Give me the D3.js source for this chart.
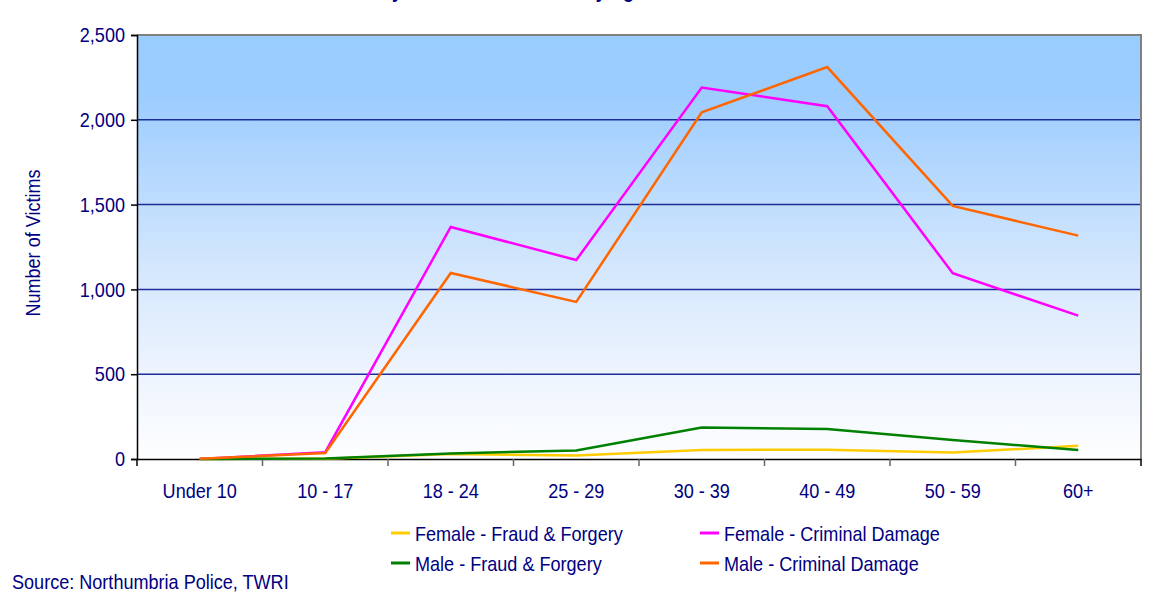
<!DOCTYPE html>
<html>
<head>
<meta charset="utf-8">
<script src="https://cdn.jsdelivr.net/npm/d3@7"></script>
<style>
	body { margin: 0; background: #fff; }
	text { font-family: "Liberation Sans Narrow", "Arial Narrow", "Liberation Sans", Arial, sans-serif; fill: #000080; }
</style>
</head>
<body>
<script>

var ageGroups = ['Under 10', '10 - 17', '18 - 24', '25 - 29', '30 - 39', '40 - 49', '50 - 59', '60+'];
var femaleFraud = [0, 2, 30, 20, 53, 55, 38, 78];
var femaleDamage = [0, 40, 1368, 1173, 2190, 2080, 1095, 845];
var maleFraud = [0, 3, 33, 50, 185, 177, 112, 53];
var maleDamage = [2, 35, 1097, 926, 2044, 2311, 1492, 1317];
var yTicks = [0, 500, 1000, 1500, 2000, 2500];

var seriesNames = ['Female - Fraud & Forgery', 'Female - Criminal Damage', 'Male - Fraud & Forgery', 'Male - Criminal Damage'];
var seriesData = [femaleFraud, femaleDamage, maleFraud, maleDamage];
var seriesColors = ['#FFCC00', '#FF00FF', '#008000', '#FF6600'];

(function(){

	var w = 1158;
	var h = 601;
	var left = 137, right = 1141, top = 35, bottom = 459;

	var svg = d3.select('body')
		.append('svg')
		.attr('width', w)
		.attr('height', h);

	// background gradient
	var grad = svg.append('defs').append('linearGradient')
		.attr('id', 'bg')
		.attr('x1', 0).attr('y1', 0).attr('x2', 0).attr('y2', 1);
	grad.append('stop').attr('offset', '0%').attr('stop-color', '#99CCFF');
	grad.append('stop').attr('offset', '15%').attr('stop-color', '#9DCDFF');
	grad.append('stop').attr('offset', '55%').attr('stop-color', '#D4E7FD');
	grad.append('stop').attr('offset', '80%').attr('stop-color', '#EEF4FE');
	grad.append('stop').attr('offset', '100%').attr('stop-color', '#FDFEFF');

	var x = d3.scaleBand().domain(ageGroups).range([left, right]);
	var y = d3.scaleLinear().domain([0, 2500]).range([bottom, top]);

	// title (cut off at top of the picture, as in the original)
	svg.append('text')
		.attr('x', 312)
		.attr('y', -2)
		.style('font-size', '21px')
		.style('font-weight', 'bold')
		.text('Victims by Offence and Gender by Age');

	svg.append('rect')
		.attr('x', left).attr('y', top)
		.attr('width', right - left).attr('height', bottom - top)
		.attr('fill', 'url(#bg)');

	// gridlines
	svg.selectAll('line.grid')
		.data(yTicks.filter(function(d){ return d > 0 && d < 2500; }))
		.enter()
		.append('line')
		.attr('class', 'grid')
		.attr('x1', left).attr('x2', right)
		.attr('y1', function(d){ return y(d); })
		.attr('y2', function(d){ return y(d); })
		.attr('stroke', '#1C2C99')
		.attr('stroke-width', 1.5);

	// top and right border
	svg.append('path')
		.attr('d', 'M' + left + ',' + y(2500) + 'H' + right + 'V' + bottom)
		.attr('fill', 'none')
		.attr('stroke', '#808080')
		.attr('stroke-width', 2);

	// y axis
	var yAxis = svg.append('g')
		.attr('transform', 'translate(' + left + ',0)')
		.call(d3.axisLeft(y).tickValues(yTicks).tickSize(6).tickPadding(6).tickFormat(d3.format(',')));
	yAxis.select('.domain').attr('stroke', '#000').attr('stroke-width', 1.5);
	yAxis.selectAll('.tick line').attr('stroke', '#000').attr('stroke-width', 1.5);
	yAxis.selectAll('.tick text').style('font-size', '21px').attr('fill', '#000080');

	// x axis
	var xAxis = svg.append('g')
		.attr('transform', 'translate(0,' + bottom + ')')
		.call(d3.axisBottom(x).tickSize(0).tickPadding(24));
	xAxis.select('.domain').attr('stroke', '#000').attr('stroke-width', 1.5);
	xAxis.selectAll('.tick text').style('font-size', '21px').attr('fill', '#000080');
	xAxis.selectAll('line.sep')
		.data(ageGroups.concat(['end']))
		.enter()
		.append('line')
		.attr('class', 'sep')
		.attr('x1', function(d, i){ return left + i * x.bandwidth(); })
		.attr('x2', function(d, i){ return left + i * x.bandwidth(); })
		.attr('y1', 0).attr('y2', 7)
		.attr('stroke', function(d, i){ return (i === 0 || i === ageGroups.length) ? '#000' : '#666'; })
		.attr('stroke-width', 1.5);

	// y label
	svg.append('text')
		.attr('transform', 'translate(40,243) rotate(-90)')
		.attr('text-anchor', 'middle')
		.style('font-size', '21px')
		.text('Number of Victims');

	// lines
	var line = d3.line()
		.x(function(d, i){ return x(ageGroups[i]) + x.bandwidth() / 2; })
		.y(function(d){ return y(d); });

	svg.selectAll('path.series')
		.data(seriesData)
		.enter()
		.append('path')
		.attr('class', 'series')
		.attr('d', line)
		.attr('fill', 'none')
		.attr('stroke', function(d, i){ return seriesColors[i]; })
		.attr('stroke-width', 2.5);

	// legend
	var legend = svg.selectAll('g.legend')
		.data(seriesNames)
		.enter()
		.append('g')
		.attr('class', 'legend')
		.attr('transform', function(d, i){
			return 'translate(' + (i % 2 === 0 ? 391 : 700) + ',' + (i < 2 ? 533 : 563) + ')';
		});
	legend.append('line')
		.attr('x1', 0).attr('x2', 19)
		.attr('stroke', function(d, i){ return seriesColors[i]; })
		.attr('stroke-width', 3);
	legend.append('text')
		.attr('x', 24)
		.attr('dy', '0.36em')
		.style('font-size', '21px')
		.text(function(d){ return d; });

	svg.append('text')
		.attr('x', 12)
		.attr('y', 589)
		.style('font-size', '21px')
		.text('Source: Northumbria Police, TWRI');

	// no narrow font installed: squeeze the text like Arial Narrow
	svg.selectAll('text').each(function(){
		var len = this.getComputedTextLength();
		d3.select(this)
			.attr('textLength', len * 0.86)
			.attr('lengthAdjust', 'spacingAndGlyphs');
	});

})();

</script>
</body>
</html>
